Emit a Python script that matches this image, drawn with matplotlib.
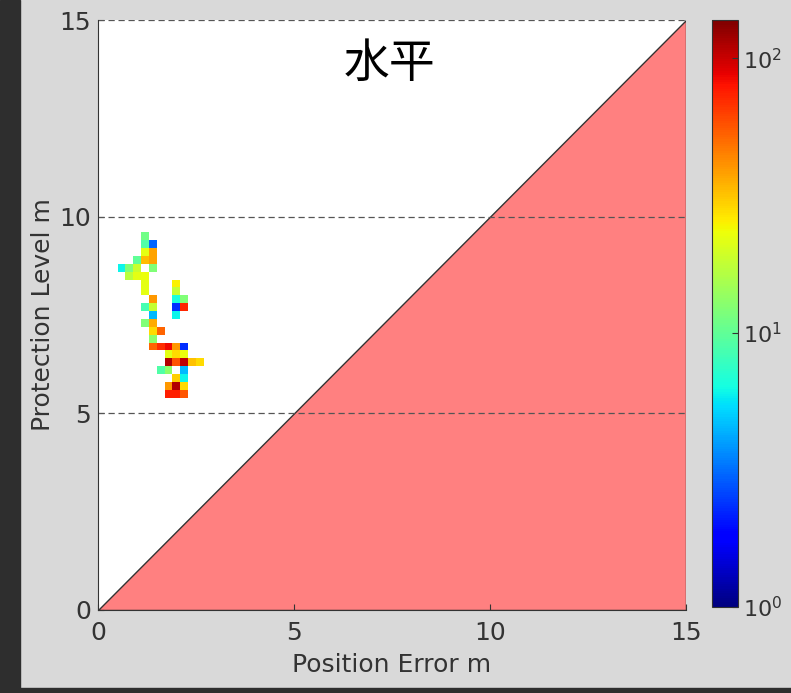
import numpy as np
import matplotlib
matplotlib.use("Agg")
import matplotlib.pyplot as plt
from matplotlib.colors import LogNorm
from matplotlib.patches import Polygon, Rectangle

plt.rcParams['font.family'] = ['DejaVu Sans', 'Noto Sans CJK JP']

# bin centres of the 2-D histogram (m)
pe_centres = [0.6, 0.8, 1.0, 1.2, 1.4, 1.6, 1.8, 2.0, 2.2, 2.4, 2.6]
pl_centres = [9.5, 9.3, 9.1, 8.9, 8.7, 8.5, 8.3, 8.1, 7.9, 7.7, 7.5,
              7.3, 7.1, 6.9, 6.7, 6.5, 6.3, 6.1, 5.9, 5.7, 5.5]

# counts per bin, one row per pl_centres entry (0 = empty)
counts = [
    [0, 0, 0, 11, 0, 0, 0, 0, 0, 0, 0],
    [0, 0, 0, 9, 3, 0, 0, 0, 0, 0, 0],
    [0, 0, 0, 22, 38, 0, 0, 0, 0, 0, 0],
    [0, 0, 10, 33, 38, 0, 0, 0, 0, 0, 0],
    [6, 12, 19, 0, 12, 0, 0, 0, 0, 0, 0],
    [0, 17, 22, 23, 0, 0, 0, 0, 0, 0, 0],
    [0, 0, 0, 22, 0, 0, 0, 25, 0, 0, 0],
    [0, 0, 0, 22, 0, 0, 0, 18, 0, 0, 0],
    [0, 0, 0, 0, 40, 0, 0, 6.5, 12, 0, 0],
    [0, 0, 0, 8.5, 18, 0, 0, 2.3, 72, 0, 0],
    [0, 0, 0, 0, 4.5, 0, 0, 6, 0, 0, 0],
    [0, 0, 0, 12, 36, 0, 0, 0, 0, 0, 0],
    [0, 0, 0, 0, 28, 52, 0, 0, 0, 0, 0],
    [0, 0, 0, 0, 13, 0, 0, 0, 0, 0, 0],
    [0, 0, 0, 0, 52, 70, 85, 40, 2.3, 0, 0],
    [0, 0, 0, 0, 0, 0, 22, 28, 23, 0, 0],
    [0, 0, 0, 0, 0, 0, 110, 58, 105, 32, 28],
    [0, 0, 0, 0, 0, 9, 13, 0, 4.5, 0, 0],
    [0, 0, 0, 0, 0, 0, 0, 30, 6, 0, 0],
    [0, 0, 0, 0, 0, 0, 40, 110, 28, 0, 0],
    [0, 0, 0, 0, 0, 0, 75, 75, 56, 0, 0],
]

axis_max = 15
ticks = [0, 5, 10, 15]
bin_w = 0.2

x = np.array(pe_centres)
y = np.array(pl_centres)
z = np.ma.masked_equal(np.array(counts, dtype=float), 0)

fig = plt.figure(figsize=(7.91, 6.93), dpi=100)
fig.patch.set_facecolor('#d9d9d9')
# dark frame strips of the screenshot
fig.patches.append(Rectangle((0, 0), 20 / 791, 1, transform=fig.transFigure,
                             color='#2e2e2e', zorder=-1))
fig.patches.append(Rectangle((0, 0), 1, 5 / 693, transform=fig.transFigure,
                             color='#2e2e2e', zorder=-1))

ax = fig.add_axes([0.1239, 0.1198, 0.7434, 0.8513])
ax.set_facecolor('white')

# unsafe region below the diagonal
ax.add_patch(Polygon([(0, 0), (axis_max, 0), (axis_max, axis_max)], closed=True,
                     facecolor='#ff8080', edgecolor='#333333', linewidth=1.0, zorder=1))

for yy in ticks[1:]:
    ax.axhline(yy, color='#555555', linestyle=(0, (5, 3)), linewidth=0.9, zorder=2)

xe = np.append(x - bin_w / 2, x[-1] + bin_w / 2)
ye = np.append(y + bin_w / 2, y[-1] - bin_w / 2)
mesh = ax.pcolormesh(xe, ye, z, cmap='jet', norm=LogNorm(vmin=1, vmax=138), zorder=3)

ax.set_xlim(0, axis_max)
ax.set_ylim(0, axis_max)
ax.set_xticks(ticks)
ax.set_yticks(ticks)
ax.tick_params(labelsize=18, colors='#333333', direction='in', length=4)
ax.tick_params(axis='x', pad=8)
ax.tick_params(axis='y', pad=5)
for s in ['top', 'right']:
    ax.spines[s].set_visible(False)
for s in ['left', 'bottom']:
    ax.spines[s].set_color('#333333')
ax.set_xlabel('Position Error m', fontsize=18, color='#333333', labelpad=6)
ax.set_ylabel('Protection Level m', fontsize=18, color='#333333', labelpad=3)
ax.text(7.45, 13.9, '水平', fontsize=33, ha='center', va='center',
        family=['Noto Sans CJK JP', 'DejaVu Sans'], zorder=4)

cax = fig.add_axes([0.9, 0.124, 0.033, 0.847])
cb = fig.colorbar(mesh, cax=cax)
cb.set_ticks([1, 10, 100])
cb.ax.minorticks_off()
cb.ax.tick_params(labelsize=16, colors='#333333', direction='in', length=4)
cb.outline.set_edgecolor('#333333')

fig.savefig('out.png', dpi=100, facecolor=fig.get_facecolor())
